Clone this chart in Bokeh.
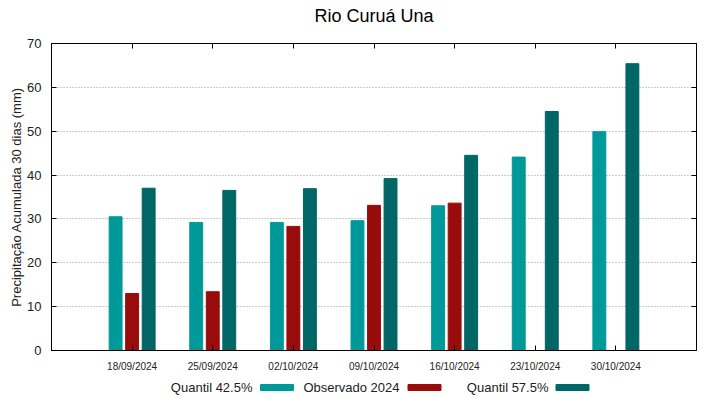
import numpy as np
from bokeh.plotting import figure
from bokeh.layouts import column
from bokeh.models import Range1d, FixedTicker, LinearAxis, CustomJSTickFormatter
from bokeh.embed import file_html
from bokeh.resources import INLINE

title_text = "Rio Curuá Una"
y_label = "Precipitação Acumulada 30 dias (mm)"
dates = ["18/09/2024", "25/09/2024", "02/10/2024", "09/10/2024",
         "16/10/2024", "23/10/2024", "30/10/2024"]
quantil_425 = [30.5, 29.2, 29.2, 29.6, 33.0, 44.1, 49.9]
observado_2024 = [13.0, 13.4, 28.3, 33.1, 33.6]
quantil_575 = [37.0, 36.5, 36.9, 39.2, 44.5, 54.5, 65.4]
y_ticks = [0, 10, 20, 30, 40, 50, 60, 70]
series_names = ["Quantil 42.5%", "Observado 2024", "Quantil 57.5%"]
colors = ["#009999", "#990c0c", "#006666"]

FONT = "Liberation Sans"
W = 719
H0, H2 = 30, 23          # title strip, legend strip
H1 = 399 - H0 - H2       # main plot
L, R = 51, 23
T = 43 - H0
B = H1 - (350 - H0)

# title strip
ttl = figure(width=W, height=H0, output_backend="svg", toolbar_location=None,
             x_range=Range1d(L, W - R), y_range=Range1d(0, H0),
             min_border_left=L, min_border_right=R, min_border_top=0, min_border_bottom=0)
ttl.axis.visible = False
ttl.grid.grid_line_color = None
ttl.outline_line_color = None
ttl.text(x=[(L + W - R) / 2], y=[H0 - 15], text=[title_text], text_align="center",
         text_baseline="middle", text_font_size="18px", text_color="black",
         text_font={"value": FONT})

p = figure(width=W, height=H1, output_backend="svg", toolbar_location=None, title=None,
           x_range=Range1d(0, 8), y_range=Range1d(0, 70),
           min_border_left=L, min_border_right=R, min_border_top=T, min_border_bottom=B)
p.outline_line_color = "black"
p.outline_line_width = 1

pos = np.arange(1, len(dates) + 1)
off = 0.205
bw = 0.16
p.vbar(x=pos - off, top=quantil_425, width=bw, color=colors[0])
p.vbar(x=pos[:len(observado_2024)], top=observado_2024, width=bw, color=colors[1])
p.vbar(x=pos + off, top=quantil_575, width=bw, color=colors[2])

# axes
xa = p.xaxis[0]
xa.ticker = FixedTicker(ticks=list(pos))
xa.major_label_overrides = {int(i): d for i, d in zip(pos, dates)}
xa.major_label_text_font = FONT
xa.major_label_text_font_size = "10px"
xa.major_label_text_color = "#222222"
xa.major_label_standoff = 10
xa.major_tick_in = 5
xa.major_tick_out = 0
xa.minor_tick_line_color = None
xa.axis_line_color = "black"

ya = p.yaxis[0]
ya.ticker = FixedTicker(ticks=y_ticks)
ya.major_label_text_font = FONT
ya.major_label_text_font_size = "13px"
ya.major_label_text_color = "#222222"
ya.major_label_standoff = 10
ya.major_tick_in = 5
ya.major_tick_out = 0
ya.minor_tick_line_color = None
ya.axis_line_color = "black"
ya.axis_label = y_label
ya.axis_label_text_font = FONT
ya.axis_label_text_font_size = "13px"
ya.axis_label_text_font_style = "normal"
ya.axis_label_text_color = "#222222"
ya.axis_label_standoff = 0

blank = CustomJSTickFormatter(code="return ''")
top_ax = LinearAxis(ticker=FixedTicker(ticks=list(pos)), formatter=blank,
                    major_label_standoff=0, major_tick_in=5, major_tick_out=0,
                    minor_tick_line_color=None, axis_line_color="black")
right_ax = LinearAxis(ticker=FixedTicker(ticks=y_ticks), formatter=blank,
                      major_label_standoff=0, major_tick_in=5, major_tick_out=0,
                      minor_tick_line_color=None, axis_line_color="black")
p.add_layout(top_ax, "above")
p.add_layout(right_ax, "right")

p.xgrid.grid_line_color = None
p.ygrid.ticker = FixedTicker(ticks=y_ticks[1:-1])
p.ygrid.grid_line_color = "#999999"
p.ygrid.grid_line_dash = "1 2"
p.ygrid.grid_line_width = 1

# legend strip (text then swatch, gnuplot style); x range in page pixels of the frame
leg = figure(width=W, height=H2, output_backend="svg", toolbar_location=None,
             x_range=Range1d(L, W - R), y_range=Range1d(0, H2),
             min_border_left=L, min_border_right=R, min_border_top=0, min_border_bottom=0)
leg.axis.visible = False
leg.grid.grid_line_color = None
leg.outline_line_color = None
leg_text_end = [252, 399, 548]
leg_sw_center = [276.5, 424, 572]
ly = H2 - 11
leg.text(x=leg_text_end, y=[ly] * 3, text=series_names, text_align="right",
         text_baseline="middle", text_font_size="13px", text_color="#222222",
         text_font={"value": FONT})
leg.rect(x=leg_sw_center, y=[ly] * 3, width=33, height=6, color=colors)

layout = column(ttl, p, leg, spacing=0)
open("out.html", "w").write(file_html(layout, INLINE))
